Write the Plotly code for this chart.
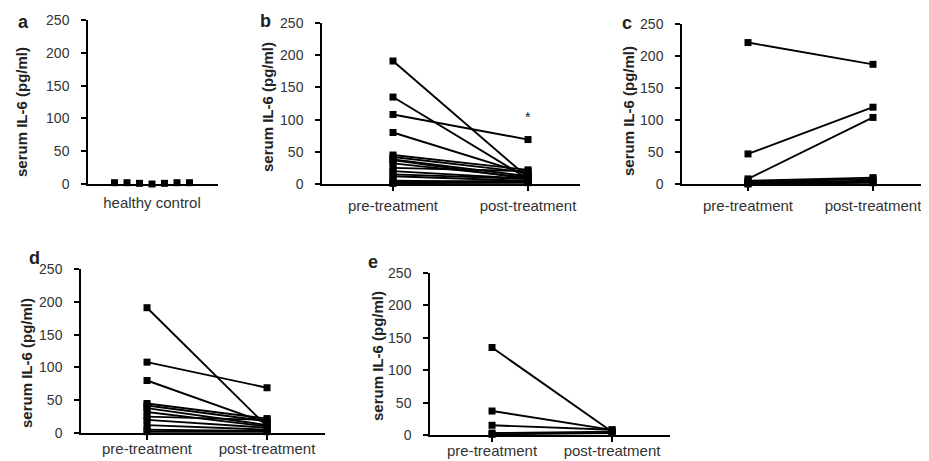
import numpy as np
import plotly.graph_objects as go

# ---- data (serum IL-6, pg/ml) ----
healthy_control = [2, 2, 1, 0, 1, 2, 2]

b_pre = [191, 135, 108, 80, 45, 42, 38, 37, 32, 25, 20, 15, 12, 5, 3, 2, 1]
b_post = [10, 8, 69, 15, 22, 18, 12, 8, 10, 20, 8, 8, 5, 3, 5, 2, 3]

c_pre = [221, 47, 8, 5, 3, 2, 1, 0]
c_post = [187, 120, 104, 10, 8, 5, 3, 2]

d_pre = [191, 108, 80, 45, 42, 38, 32, 25, 20, 12, 5, 2]
d_post = [10, 69, 15, 22, 18, 12, 10, 20, 8, 5, 3, 2]

e_pre = [135, 37, 15, 3, 1]
e_post = [5, 8, 8, 5, 3]

b_star_value = 104

categories = ["pre-treatment", "post-treatment"]
a_category = ["healthy control"]
y_ticks = [0, 50, 100, 150, 200, 250]
y_title = "serum IL-6 (pg/ml)"
panel_letters = ["a", "b", "c", "d", "e"]

# ---- layout geometry ----
# the page body adds an 8px margin; the figure fills the rest of the 929x461 window
OFF = 8
W, H = 929 - OFF, 461 - OFF
FONT = "Liberation Sans, Arial, sans-serif"

def px_x(p):
    return (p - OFF) / W

def px_y(p):
    return 1 - (p - OFF) / H

panels = {
    # name: (x0, x1, ytop, ybottom, xrange, x label standoff, x tick length)
    "a": (88, 218, 20, 184, [-0.64, 0.66], 4, 5),
    "b": (322, 580, 23, 184, [-0.526, 1.385], 2, 5),
    "c": (682, 929, 24, 184, [-0.528, 1.448], 2, 5),
    "d": (81, 325, 269, 433, [-0.55, 1.483], -4, 5),
    "e": (430, 670, 273, 435, [-0.517, 1.483], -4, 5),
}

fig = go.Figure()
axis_ids = {}
for i, (name, (x0, x1, yt, yb, xr, so, tl)) in enumerate(panels.items()):
    suffix = "" if i == 0 else str(i + 1)
    axis_ids[name] = ("x" + suffix, "y" + suffix)
    xa = dict(
        domain=[px_x(x0), min(px_x(x1), 1.0)],
        range=xr,
        anchor="y" + suffix,
        automargin=False,
        showline=True, linecolor="black", linewidth=1.5,
        showgrid=False, zeroline=False,
        ticks="outside" if name != "a" else "",
        ticklen=tl, tickwidth=1.5, tickcolor="black",
        tickvals=[0] if name == "a" else [0, 1],
        ticktext=a_category if name == "a" else categories,
        tickfont=dict(family=FONT, size=15, color="#333"),
        ticklabelstandoff=so,
        fixedrange=True,
    )
    ya = dict(
        domain=[px_y(yb), px_y(yt)],
        range=[0, 250],
        anchor="x" + suffix,
        automargin=False,
        showline=True, linecolor="black", linewidth=1.5,
        showgrid=False, zeroline=False,
        ticks="outside", ticklen=5, tickwidth=1.5, tickcolor="black",
        tickvals=y_ticks,
        tickfont=dict(family=FONT, size=14, color="#333"),
        ticklabelstandoff=9,
        fixedrange=True,
    )
    fig.update_layout(**{"xaxis" + suffix: xa, "yaxis" + suffix: ya})

line_style = dict(color="black", width=1.9)
marker_style = dict(symbol="square", size=7, color="black")

# panel a: healthy control scatter
xa_id, ya_id = axis_ids["a"]
jitter = np.linspace(-0.375, 0.375, len(healthy_control))
fig.add_trace(go.Scatter(x=jitter, y=healthy_control, mode="markers",
                         marker=marker_style, xaxis=xa_id, yaxis=ya_id,
                         cliponaxis=False, showlegend=False))

def add_pairs(name, pre, post):
    xid, yid = axis_ids[name]
    for p0, p1 in zip(pre, post):
        fig.add_trace(go.Scatter(x=[0, 1], y=[p0, p1], mode="lines+markers",
                                 line=line_style, marker=marker_style,
                                 xaxis=xid, yaxis=yid, cliponaxis=False,
                                 showlegend=False))

add_pairs("b", b_pre, b_post)
add_pairs("c", c_pre, c_post)
add_pairs("d", d_pre, d_post)
add_pairs("e", e_pre, e_post)

annotations = []
# asterisk in panel b
annotations.append(dict(x=1, y=b_star_value, xref=axis_ids["b"][0], yref=axis_ids["b"][1],
                        text="*", showarrow=False,
                        font=dict(family=FONT, size=14, color="#222")))

# y titles and panel letters (pixel positions in the reference)
title_pos = {"a": (21, 112), "b": (267, 107), "c": (628, 111), "d": (26, 363), "e": (377, 356)}
letter_pos = {"a": (23, 22), "b": (265, 21), "c": (627, 23), "d": (34, 258), "e": (373, 262)}
for name in panel_letters:
    tx, ty = title_pos[name]
    annotations.append(dict(x=px_x(tx), y=px_y(ty), xref="paper", yref="paper",
                            text="<b>" + y_title + "</b>", textangle=-90, showarrow=False,
                            xanchor="center", yanchor="middle",
                            font=dict(family=FONT, size=15, color="#222")))
    lx, ly = letter_pos[name]
    annotations.append(dict(x=px_x(lx), y=px_y(ly), xref="paper", yref="paper",
                            text="<b>" + name + "</b>", showarrow=False,
                            xanchor="center", yanchor="middle",
                            font=dict(family=FONT, size=18, color="#222")))

fig.update_layout(
    width=W, height=H,
    margin=dict(l=0, r=0, t=0, b=0),
    paper_bgcolor="white", plot_bgcolor="white",
    annotations=annotations,
    showlegend=False,
)

fig.write_html("out.html", config={"displayModeBar": False})
